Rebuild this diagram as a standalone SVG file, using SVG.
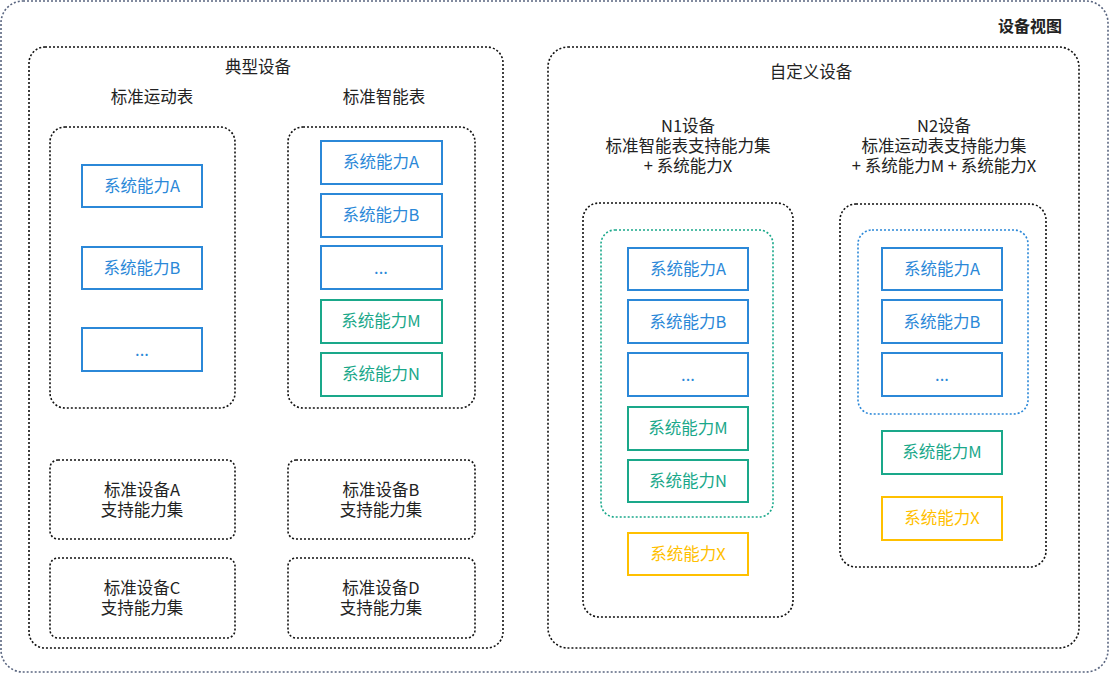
<svg xmlns="http://www.w3.org/2000/svg" width="1110" height="674" viewBox="0 0 1110 674">
<style>
text{font-family:"Microsoft YaHei","Noto Sans CJK SC","Liberation Sans",sans-serif;font-size:16.5px;text-anchor:middle;dominant-baseline:central;fill:#222}
.grp{fill:none;stroke:#111;stroke-width:1.6;stroke-dasharray:2 2}
.outer{fill:#fff;stroke:#5a6680;stroke-width:1.6;stroke-dasharray:2 2}
.gin{fill:none;stroke:#1aa88a;stroke-width:1.6;stroke-dasharray:2 2}
.bin{fill:none;stroke:#2b88d8;stroke-width:1.6;stroke-dasharray:2 2}
.b{fill:#fff;stroke:#2b88d8;stroke-width:2}
.g{fill:#fff;stroke:#1aa88a;stroke-width:2}
.y{fill:#fff;stroke:#ffc000;stroke-width:2}
.tb{fill:#2b88d8}
.tg{fill:#1aa88a}
.ty{fill:#ffc000}
</style>
<rect class="outer" x="1" y="1" width="1107" height="671" rx="22"/>
<text x="1030" y="25" style="font-weight:bold;font-size:16px">设备视图</text>

<g id="typical">
<rect class="grp" x="29" y="47" width="474" height="601" rx="16"/>
<text x="258" y="66">典型设备</text>
<text x="152" y="96">标准运动表</text>
<text x="384" y="96">标准智能表</text>
</g>

<g id="sport">
<rect class="grp" x="50" y="127" width="185" height="281" rx="15"/>
<g id="sport-a"><rect class="b" x="82" y="165" width="120" height="42"/><text class="tb" x="142" y="185">系统能力A</text></g>
<g id="sport-b"><rect class="b" x="82" y="247" width="120" height="42"/><text class="tb" x="142" y="267">系统能力B</text></g>
<g id="sport-dots"><rect class="b" x="82" y="328" width="120" height="43"/><text class="tb" x="142" y="349">...</text></g>
</g>

<g id="smart">
<rect class="grp" x="288" y="127" width="187" height="281" rx="15"/>
<g id="smart-a"><rect class="b" x="321" y="141" width="121" height="43"/><text class="tb" x="381" y="161">系统能力A</text></g>
<g id="smart-b"><rect class="b" x="321" y="194" width="121" height="43"/><text class="tb" x="381" y="214">系统能力B</text></g>
<g id="smart-dots"><rect class="b" x="321" y="246" width="121" height="43"/><text class="tb" x="381" y="267">...</text></g>
<g id="smart-m"><rect class="g" x="321" y="300" width="121" height="43"/><text class="tg" x="381" y="320">系统能力M</text></g>
<g id="smart-n"><rect class="g" x="321" y="353" width="121" height="43"/><text class="tg" x="381" y="373">系统能力N</text></g>
</g>

<g id="std-a"><rect class="grp" x="50" y="460" width="185" height="79" rx="8"/><text x="142" y="489">标准设备A<tspan x="142" dy="20">支持能力集</tspan></text></g>
<g id="std-b"><rect class="grp" x="288" y="460" width="187" height="79" rx="8"/><text x="381" y="489">标准设备B<tspan x="381" dy="20">支持能力集</tspan></text></g>
<g id="std-c"><rect class="grp" x="50" y="558" width="185" height="80" rx="8"/><text x="142" y="587">标准设备C<tspan x="142" dy="20">支持能力集</tspan></text></g>
<g id="std-d"><rect class="grp" x="288" y="558" width="187" height="80" rx="8"/><text x="381" y="587">标准设备D<tspan x="381" dy="20">支持能力集</tspan></text></g>

<g id="custom">
<rect class="grp" x="548" y="47" width="531" height="601" rx="20"/>
<text x="811" y="71">自定义设备</text>
</g>

<g id="n1">
<text x="688" y="125">N1设备<tspan x="688" dy="20">标准智能表支持能力集</tspan><tspan x="688" dy="20">+ 系统能力X</tspan></text>
<rect class="grp" x="583" y="203" width="210" height="414" rx="16"/>
<rect class="gin" x="601" y="230" width="172" height="287" rx="14"/>
<g id="n1-a"><rect class="b" x="628" y="248" width="120" height="42"/><text class="tb" x="688" y="268">系统能力A</text></g>
<g id="n1-b"><rect class="b" x="628" y="300" width="120" height="43"/><text class="tb" x="688" y="321">系统能力B</text></g>
<g id="n1-dots"><rect class="b" x="628" y="353" width="120" height="43"/><text class="tb" x="688" y="374">...</text></g>
<g id="n1-m"><rect class="g" x="628" y="407" width="120" height="43"/><text class="tg" x="688" y="427">系统能力M</text></g>
<g id="n1-n"><rect class="g" x="628" y="460" width="120" height="42"/><text class="tg" x="688" y="480">系统能力N</text></g>
<g id="n1-x"><rect class="y" x="628" y="533" width="120" height="42"/><text class="ty" x="688" y="553">系统能力X</text></g>
</g>

<g id="n2">
<text x="944" y="125">N2设备<tspan x="944" dy="20">标准运动表支持能力集</tspan><tspan x="944" dy="20">+ 系统能力M + 系统能力X</tspan></text>
<rect class="grp" x="840" y="204" width="206" height="363" rx="16"/>
<rect class="bin" x="858" y="230" width="170" height="184" rx="14"/>
<g id="n2-a"><rect class="b" x="882" y="248" width="120" height="42"/><text class="tb" x="942" y="268">系统能力A</text></g>
<g id="n2-b"><rect class="b" x="882" y="300" width="120" height="43"/><text class="tb" x="942" y="321">系统能力B</text></g>
<g id="n2-dots"><rect class="b" x="882" y="353" width="120" height="43"/><text class="tb" x="942" y="374">...</text></g>
<g id="n2-m"><rect class="g" x="882" y="431" width="120" height="43"/><text class="tg" x="942" y="451">系统能力M</text></g>
<g id="n2-x"><rect class="y" x="882" y="497" width="120" height="43"/><text class="ty" x="942" y="517">系统能力X</text></g>
</g>
<g id="connectors"/>
</svg>
